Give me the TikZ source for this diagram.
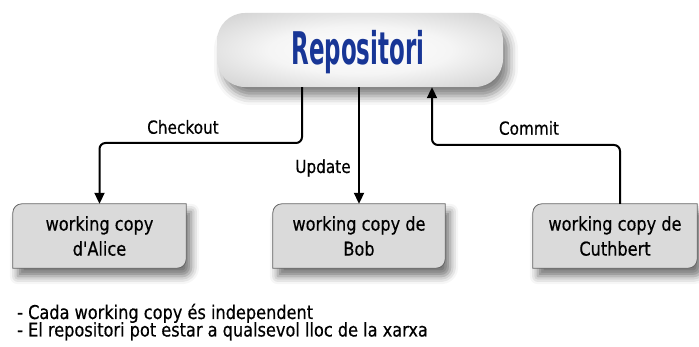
\documentclass[tikz,border=0pt]{standalone}
\usepackage{fontspec}
\setmainfont{DejaVu Sans}[FakeStretch=0.85, FakeBold=0.5, Ligatures=TeXOff]
\newfontfamily\repofont{DejaVu Sans}[FakeStretch=0.51]
\usetikzlibrary{arrows.meta,shadows.blur,backgrounds}
\definecolor{repoblue}{RGB}{24,54,150}
\definecolor{boxgray}{RGB}{218,218,218}
\pgfdeclareradialshading{pillshade}{\pgfpoint{0bp}{0bp}}{%
  color(0bp)=(white); color(16bp)=(white!96!black); color(32bp)=(white!84!black);
  color(46bp)=(white!72!black); color(58bp)=(white!66!black); color(75bp)=(white!62!black)}
\begin{document}
\begin{tikzpicture}[x=1pt,y=-1pt,
  lbl/.style={font=\fontsize{18}{20}\selectfont, inner sep=0pt},
  wc/.style={align=center, font=\fontsize{19}{25}\selectfont, inner sep=0pt,
    minimum height=64pt},
  wcshape/.style={fill=boxgray, draw=black!60, line width=0.8pt,
    blur shadow={shadow xshift=5pt, shadow yshift=-8pt,
      shadow blur radius=8pt, shadow opacity=55}},
  repobox/.style={rounded corners=28pt, shading=pillshade,
    minimum width=286pt, minimum height=74pt, inner sep=0pt,
    blur shadow={shadow xshift=6pt, shadow yshift=-9pt,
      shadow blur radius=9pt, shadow opacity=50}},
  flow/.style={line width=2pt, rounded corners=6pt,
    -{Triangle[width=10pt,length=11pt]}},
  note/.style={anchor=base west, inner sep=0pt, font=\fontsize{19}{20}\selectfont}]
\useasboundingbox (0,0) rectangle (699,347);

% central repository
\node[repobox] (repo) at (360,50) {};
\node[text=repoblue, inner sep=0pt, anchor=base] (title) at (358,65)
  {\repofont\bfseries\fontsize{45}{45}\selectfont Repositori};

% working copies
\node[wc, minimum width=173pt] (alice) at (99.5,236) {working copy\\d'Alice};
\node[wc, minimum width=172pt] (bob) at (359,236) {working copy de\\Bob};
\node[wc, minimum width=164pt] (cuth) at (615,236) {working copy de\\Cuthbert};

% box outlines: top-left and bottom-right corners rounded
\begin{scope}[on background layer]
  \foreach \n in {alice,bob,cuth}
    \path[wcshape] (\n.north) -- (\n.north east) [rounded corners=9pt] -- (\n.south east)
      [sharp corners] -- (\n.south west) [rounded corners=9pt] -- (\n.north west)
      [sharp corners] -- cycle;
\end{scope}

% bend points of the connectors
\coordinate (co1) at (302,143);
\coordinate (co2) at (99.5,143);
\coordinate (cm1) at (620,145);
\coordinate (cm2) at (432,145);

\draw[flow] (repo.south -| co1) -- (co1) -- (co2) -- (alice.north);
\draw[flow] (repo.south -| bob.north) -- (bob.north);
\draw[flow] (cuth.north -| cm1) -- (cm1) -- (cm2) -- (repo.south -| cm2);

\node[lbl] (lco) at (183,127) {Checkout};
\node[lbl] (lup) at (323,168) {Update};
\node[lbl] (lcm) at (529,128) {Commit};

% notes
\node[note] (n1) at (17,319) {- Cada working copy és independent};
\node[note] (n2) at (17,336.5) {- El repositori pot estar a qualsevol lloc de la xarxa};
\end{tikzpicture}
\end{document}
